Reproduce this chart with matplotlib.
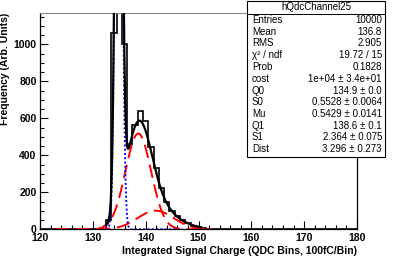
import numpy as np
import matplotlib
matplotlib.use("Agg")
import matplotlib.pyplot as plt
from matplotlib.patches import Rectangle
from matplotlib.lines import Line2D
from math import factorial

plt.rcParams['font.family'] = ['Liberation Sans', 'DejaVu Sans']

# histogram contents, 1 unit bins centred on integers
bin_centers = np.arange(120, 181)
counts = np.zeros(len(bin_centers))
peak_bins = [133, 134, 135, 136, 137, 138, 139, 140, 141, 142, 143, 144,
             145, 146, 147, 148, 149, 150, 151, 152, 153]
peak_counts = [50, 1060, 3620, 1005, 460, 565, 640, 585, 445, 330, 225, 150,
               100, 70, 50, 32, 20, 12, 6, 3, 1]
for b, c in zip(peak_bins, peak_counts):
    counts[b - 120] = c
edges = np.append(bin_centers - 0.5, bin_centers[-1] + 0.5)

# fit parameters from the stats box
cost = 1e4
Q0, S0 = 134.9, 0.5528
Mu = 0.5429
Q1, S1 = 138.6, 2.364
Dist = 3.296

stats_rows = [
    ("Entries", "10000"),
    ("Mean", "136.8"),
    ("RMS", "2.905"),
    ("χ² / ndf", "19.72 / 15"),
    ("Prob", "0.1828"),
    ("cost", "1e+04 ± 3.4e+01"),
    ("Q0", "134.9 ± 0.0"),
    ("S0", "0.5528 ± 0.0064"),
    ("Mu", "0.5429 ± 0.0141"),
    ("Q1", "138.6 ± 0.1"),
    ("S1", "2.364 ± 0.075"),
    ("Dist", "3.296 ± 0.273"),
]


def gauss_n(x, n):
    # n photoelectron term of the PMT response
    if n == 0:
        mean, sig = Q0, S0
    else:
        mean = Q1 + (n - 1) * Dist
        sig = np.sqrt(S0**2 + n * S1**2)
    pois = np.exp(-Mu) * Mu**n / factorial(n)
    return cost * pois * np.exp(-0.5 * ((x - mean) / sig)**2) / (sig * np.sqrt(2 * np.pi))


W, H = 395, 258
fig = plt.figure(figsize=(W / 100, H / 100), dpi=100)
ax = fig.add_axes([40 / W, 1 - 229.3 / H, (357 - 40) / W, (229.3 - 13) / H])

ax.stairs(counts, edges, color='black', lw=1.2, zorder=2)

xr = np.linspace(123, 152.5, 600)
ax.plot(xr, gauss_n(xr, 1), color='red', lw=1.4, dashes=(7, 3.5), zorder=3)
ax.plot(xr, gauss_n(xr, 2), color='red', lw=1.4, dashes=(7, 3.5), zorder=3)
xb = np.linspace(132.5, 147, 600)
ax.plot(xb, gauss_n(xb, 0), color='blue', lw=1.4, dashes=(1, 1.2), zorder=4)
xf = np.linspace(132.5, 150.5, 800)
total = sum(gauss_n(xf, n) for n in range(4))
ax.plot(xf, total, color='black', lw=1.6, zorder=5)

ax.set_xlim(120, 180)
ax.set_ylim(0, 1170)
ax.set_xticks(np.arange(120, 181, 10))
ax.set_xticks(np.arange(120, 181, 2), minor=True)
ax.set_yticks(np.arange(0, 1001, 200))
ax.set_yticks(np.arange(0, 1170, 50), minor=True)
ax.tick_params(which='both', direction='in', top=False, right=False,
               labelsize=7.5, width=0.8, pad=2.5)
ax.tick_params(which='major', length=6)
ax.tick_params(which='minor', length=3)
for lab in ax.get_xticklabels() + ax.get_yticklabels():
    lab.set_fontweight('bold')
for s in ax.spines.values():
    s.set_linewidth(0.9)
ax.spines['top'].set_color('#808080')
ax.spines['top'].set_linewidth(0.7)

ax.set_xlabel('Integrated Signal Charge (QDC Bins, 100fC/Bin)', loc='right',
              fontsize=7.5, fontweight='bold', labelpad=2)
ax.set_ylabel('Frequency (Arb. Units)', loc='top', fontsize=7.5,
              fontweight='bold', labelpad=2.5)


# stats box in pixel coordinates
def fx(x):
    return x / W


def fy(y):
    return 1 - y / H


bl, br, bt, bb = 247, 385, 1, 157
fig.patches.append(Rectangle((fx(bl), fy(bb)), fx(br) - fx(bl), fy(bt) - fy(bb),
                             transform=fig.transFigure, facecolor='white',
                             edgecolor='black', lw=0.8, zorder=10))
fig.lines.append(Line2D([fx(bl), fx(br)], [fy(13.5), fy(13.5)],
                        transform=fig.transFigure, color='black', lw=0.7, zorder=11))
fig.text(fx((bl + br) / 2), fy(7.5), 'hQdcChannel25', ha='center', va='center',
         fontsize=7, zorder=12)
for i, (name, val) in enumerate(stats_rows):
    y = fy(20 + i * 11.75)
    fig.text(fx(bl + 5), y, name, ha='left', va='center', fontsize=7, zorder=12)
    fig.text(fx(br - 3), y, val, ha='right', va='center', fontsize=7, zorder=12)

fig.savefig('out.png', dpi=100)
